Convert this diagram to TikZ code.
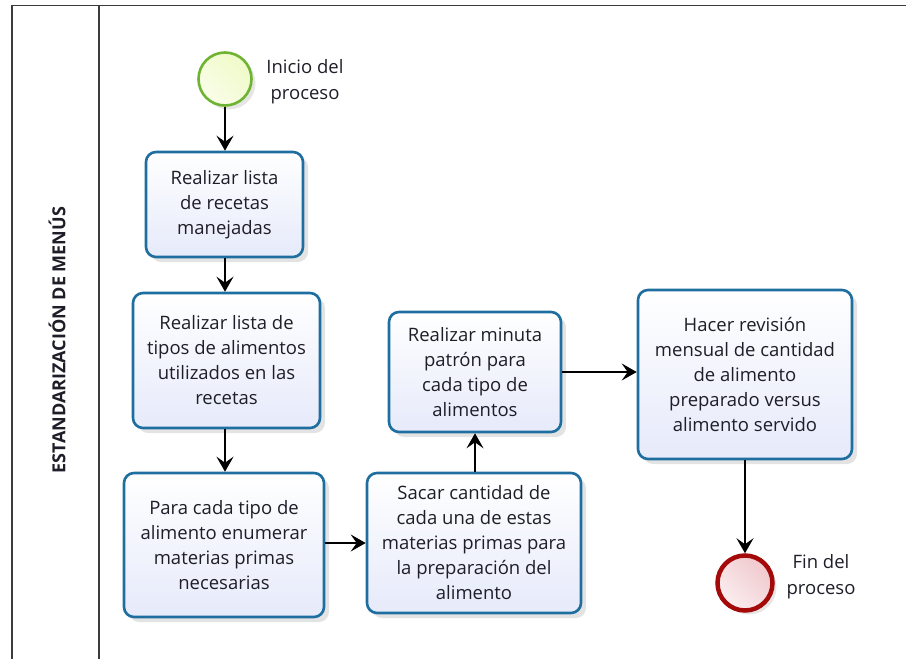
\documentclass[tikz,border=0pt]{standalone}
\usepackage{fontspec}
\setmainfont{Open Sans}
\usetikzlibrary{arrows.meta,shadows,calc}
\definecolor{boxblue}{RGB}{30,110,160}
\definecolor{boxbot}{RGB}{230,234,250}
\definecolor{startgreen}{RGB}{110,180,50}
\definecolor{startfill}{RGB}{240,250,200}
\definecolor{endred}{RGB}{165,10,10}
\definecolor{endfill}{RGB}{240,200,205}
\definecolor{poolgray}{RGB}{60,60,60}
\definecolor{txt}{RGB}{30,30,40}
\tikzset{
  task/.style={draw=boxblue, line width=2.6pt, rounded corners=10pt,
    top color=white, bottom color=boxbot, align=center, text=txt,
    font=\fontsize{18.5}{25}\selectfont, inner sep=0pt,
    drop shadow={opacity=0.22, shadow xshift=5pt, shadow yshift=-5pt}},
  flow/.style={line width=1.6pt, -{Stealth[length=15pt,width=17pt,inset=6pt]}},
  evlabel/.style={align=center, text=txt, font=\fontsize{18.5}{26}\selectfont},
}
\begin{document}
\begin{tikzpicture}[x=1pt,y=-1pt]
\useasboundingbox (0,0) rectangle (906,659);
% pool
\draw[poolgray, line width=1.6pt] (12,659) -- (12,5.5) -- (906,5.5);
\draw[poolgray, line width=1.6pt] (99,5.5) -- (99,659);
\node[rotate=90, font=\bfseries\fontsize{18}{20}\selectfont, text=txt] (lane) at (57,340) {ESTANDARIZACIÓN DE MENÚS};
% events
\node[circle, draw=startgreen, line width=2.6pt, minimum size=53pt, inner sep=0pt,
  top color=startfill!40, bottom color=startfill, shading angle=135,
  drop shadow={opacity=0.2, shadow xshift=4pt, shadow yshift=-4pt}] (start) at (225,79) {};
\node[evlabel] (startlbl) at (305,82) {Inicio del\\proceso};
\node[circle, draw=endred, line width=4.5pt, minimum size=55pt, inner sep=0pt,
  top color=endfill!30, bottom color=endfill, shading angle=135,
  drop shadow={opacity=0.2, shadow xshift=4pt, shadow yshift=-4pt}] (end) at (745,583) {};
\node[evlabel] (endlbl) at (821,577) {Fin del\\proceso};
% tasks
\node[task, minimum width=157pt, minimum height=105pt] (b1) at (224.5,204.5) {Realizar lista\\de recetas\\manejadas};
\node[task, minimum width=187pt, minimum height=135pt] (b2) at (226.5,360.5) {Realizar lista de\\tipos de alimentos\\utilizados en las\\recetas};
\node[task, minimum width=200pt, minimum height=144pt] (b3) at (224,545) {Para cada tipo de\\alimento enumerar\\materias primas\\necesarias};
\node[task, minimum width=214pt, minimum height=140pt] (b4) at (474,543) {Sacar cantidad de\\cada una de estas\\materias primas para\\la preparación del\\alimento};
\node[task, minimum width=172pt, minimum height=120pt] (b5) at (475,372) {Realizar minuta\\patrón para\\cada tipo de\\alimentos};
\node[task, minimum width=214pt, minimum height=169pt] (b6) at (745,374.5) {Hacer revisión\\mensual de cantidad\\de alimento\\preparado versus\\alimento servido};
% flows
\draw[flow] (start.south) -- (start.south |- b1.north);
\draw[flow] (start.south |- b1.south) -- (start.south |- b2.north);
\draw[flow] (start.south |- b2.south) -- (start.south |- b3.north);
\draw[flow] (b3.east |- b4.west) -- (b4.west);
\draw[flow] (b4.north -| b5.south) -- (b5.south);
\draw[flow] (b5.east) -- (b5.east -| b6.west);
\draw[flow] (b6.south -| end.north) -- (end.north);
\end{tikzpicture}
\end{document}
